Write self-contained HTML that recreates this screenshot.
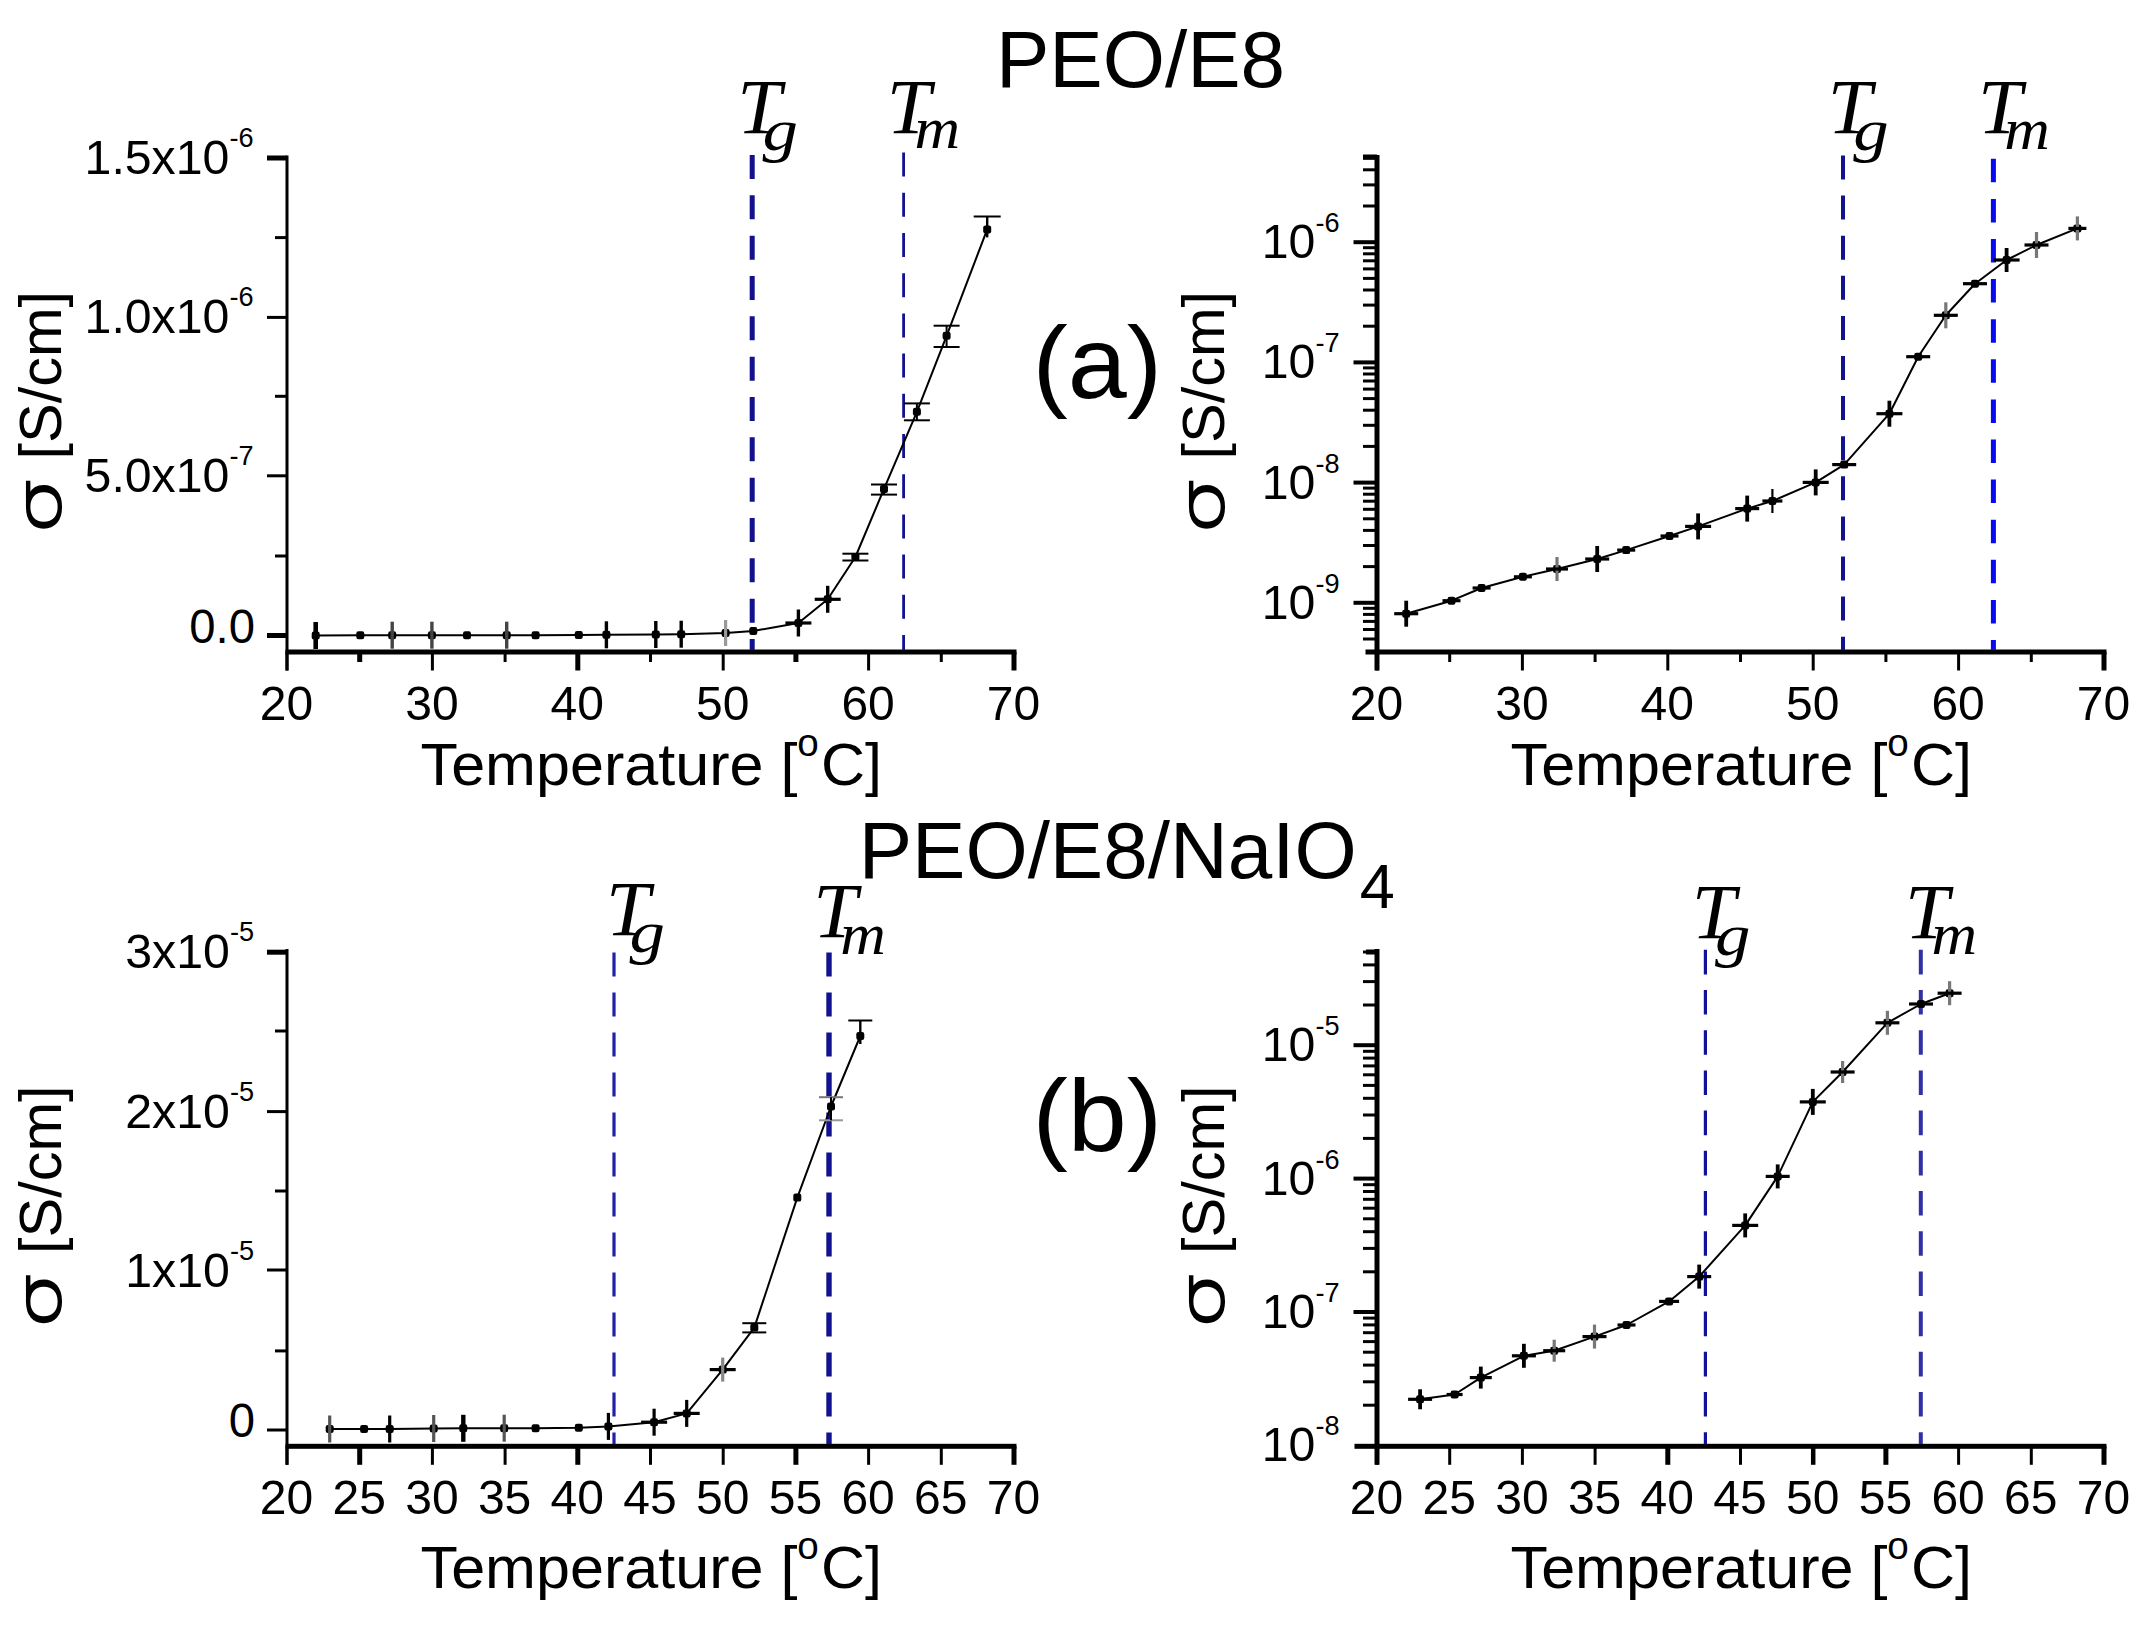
<!DOCTYPE html>
<html><head><meta charset="utf-8"><title>PEO/E8 conductivity</title>
<style>html,body{margin:0;padding:0;background:#fff}svg{display:block}</style></head>
<body>
<svg width="2151" height="1628" viewBox="0 0 2151 1628">
<rect width="2151" height="1628" fill="#fff"/>
<text id="title1" transform="translate(996.0,86.5) scale(1.0,1.0)" font-size="80" text-anchor="start" font-family='"Liberation Sans", Arial, sans-serif' >PEO/E8</text>
<text id="title2" transform="translate(858.7,877.6) scale(1.0,1.0)" font-size="80" text-anchor="start" font-family='"Liberation Sans", Arial, sans-serif' >PEO/E8/NaIO<tspan font-size="63" dy="30" dx="3">4</tspan></text>
<text id="la" transform="translate(1097.2,397.9) scale(1.04,1.0)" font-size="102" text-anchor="middle" font-family='"Liberation Sans", Arial, sans-serif' >(a)</text>
<text id="lb" transform="translate(1097.2,1151.0) scale(1.04,1.0)" font-size="102" text-anchor="middle" font-family='"Liberation Sans", Arial, sans-serif' >(b)</text>
<line x1="287.0" y1="155.5" x2="287.0" y2="670.5" stroke="#000" stroke-width="3" />
<rect x="285.5" y="649.5" width="731.0" height="5" fill="#000"/>
<line x1="287.0" y1="652.0" x2="287.0" y2="670.5" stroke="#000" stroke-width="3" />
<line x1="432.4" y1="652.0" x2="432.4" y2="670.5" stroke="#000" stroke-width="3" />
<line x1="577.8" y1="652.0" x2="577.8" y2="670.5" stroke="#000" stroke-width="5" />
<line x1="723.2" y1="652.0" x2="723.2" y2="670.5" stroke="#000" stroke-width="3" />
<line x1="868.6" y1="652.0" x2="868.6" y2="670.5" stroke="#000" stroke-width="3" />
<line x1="1014.0" y1="652.0" x2="1014.0" y2="670.5" stroke="#000" stroke-width="5" />
<line x1="359.7" y1="652.0" x2="359.7" y2="662.0" stroke="#000" stroke-width="5" />
<line x1="505.1" y1="652.0" x2="505.1" y2="662.0" stroke="#000" stroke-width="3" />
<line x1="650.5" y1="652.0" x2="650.5" y2="662.0" stroke="#000" stroke-width="3" />
<line x1="795.9" y1="652.0" x2="795.9" y2="662.0" stroke="#000" stroke-width="5" />
<line x1="941.3" y1="652.0" x2="941.3" y2="662.0" stroke="#000" stroke-width="3" />
<text id="t1" transform="translate(286.5,719.8) scale(0.99,1.0)" font-size="48.5" text-anchor="middle" font-family='"Liberation Sans", Arial, sans-serif' >20</text>
<text id="t2" transform="translate(431.9,719.8) scale(0.99,1.0)" font-size="48.5" text-anchor="middle" font-family='"Liberation Sans", Arial, sans-serif' >30</text>
<text id="t3" transform="translate(577.3,719.8) scale(0.99,1.0)" font-size="48.5" text-anchor="middle" font-family='"Liberation Sans", Arial, sans-serif' >40</text>
<text id="t4" transform="translate(722.7,719.8) scale(0.99,1.0)" font-size="48.5" text-anchor="middle" font-family='"Liberation Sans", Arial, sans-serif' >50</text>
<text id="t5" transform="translate(868.1,719.8) scale(0.99,1.0)" font-size="48.5" text-anchor="middle" font-family='"Liberation Sans", Arial, sans-serif' >60</text>
<text id="t6" transform="translate(1013.5,719.8) scale(0.99,1.0)" font-size="48.5" text-anchor="middle" font-family='"Liberation Sans", Arial, sans-serif' >70</text>
<line x1="267.0" y1="158.0" x2="287.0" y2="158.0" stroke="#000" stroke-width="5" />
<line x1="267.0" y1="317.4" x2="287.0" y2="317.4" stroke="#000" stroke-width="3" />
<line x1="267.0" y1="475.8" x2="287.0" y2="475.8" stroke="#000" stroke-width="3" />
<line x1="267.0" y1="635.5" x2="287.0" y2="635.5" stroke="#000" stroke-width="5" />
<line x1="275.0" y1="237.6" x2="287.0" y2="237.6" stroke="#000" stroke-width="3" />
<line x1="275.0" y1="396.3" x2="287.0" y2="396.3" stroke="#000" stroke-width="3" />
<line x1="275.0" y1="556.0" x2="287.0" y2="556.0" stroke="#000" stroke-width="3" />
<text id="sc7" transform="translate(253.5,174.0) scale(1.005,1.0)" font-size="48" text-anchor="end" font-family='"Liberation Sans", Arial, sans-serif' >1.5x10<tspan font-size="27" dy="-27">-6</tspan></text>
<text id="sc8" transform="translate(253.5,333.0) scale(1.005,1.0)" font-size="48" text-anchor="end" font-family='"Liberation Sans", Arial, sans-serif' >1.0x10<tspan font-size="27" dy="-27">-6</tspan></text>
<text id="sc9" transform="translate(253.5,491.5) scale(1.005,1.0)" font-size="48" text-anchor="end" font-family='"Liberation Sans", Arial, sans-serif' >5.0x10<tspan font-size="27" dy="-27">-7</tspan></text>
<text id="t10" transform="translate(255.0,643.0) scale(0.985,1.0)" font-size="48" text-anchor="end" font-family='"Liberation Sans", Arial, sans-serif' >0.0</text>
<text id="xl11" transform="translate(651.3,784.8) scale(1.018,1.0)" font-size="60" text-anchor="middle" font-family='"Liberation Sans", Arial, sans-serif' >Temperature [<tspan font-size="38" dy="-29">o</tspan><tspan dy="29" dx="2">C]</tspan></text>
<g transform="translate(61.2,531.5) rotate(-90)">
<text id="sg12" transform="translate(-3.0,-1.0) scale(1.5,1.0)" font-size="60" text-anchor="start" font-family='"DejaVu Sans", "Liberation Sans", sans-serif' font-weight="200" stroke="#000" stroke-width="2.1">σ</text>
<text id="yl13" transform="translate(72.0,0.0) scale(1.017,1.0)" font-size="58.5" text-anchor="start" font-family='"Liberation Sans", Arial, sans-serif' >[S/cm]</text>
</g>
<line x1="752.2" y1="155.0" x2="752.2" y2="650.0" stroke="#12128e" stroke-width="5" stroke-dasharray="24 16.33"/>
<line x1="903.6" y1="152.6" x2="903.6" y2="650.0" stroke="#12128e" stroke-width="2.8" stroke-dasharray="24 16.2"/>
<text id="T14" transform="translate(737.2,132.7) scale(1.0,1.0)" font-size="79" text-anchor="start" font-family='"Liberation Serif", "Times New Roman", serif' font-style="italic">T</text>
<text id="T14s" transform="translate(762.6,149.7) scale(1.2,1.0)" font-size="59" text-anchor="start" font-family='"Liberation Serif", "Times New Roman", serif' font-style="italic">g</text>
<text id="T15" transform="translate(886.8,132.7) scale(1.0,1.0)" font-size="79" text-anchor="start" font-family='"Liberation Serif", "Times New Roman", serif' font-style="italic">T</text>
<text id="T15s" transform="translate(914.4,148.2) scale(1.07,1.0)" font-size="59" text-anchor="start" font-family='"Liberation Serif", "Times New Roman", serif' font-style="italic">m</text>
<polyline fill="none" stroke="#000" stroke-width="2" stroke-linejoin="round" points="315.7,635.5 360.3,635.2 392.2,635.2 431.9,635.2 467.0,635.2 506.7,635.2 535.6,635.2 578.8,635.0 606.4,634.8 655.8,634.5 681.2,634.2 725.6,633.0 753.3,631.0 798.4,623.0 827.7,599.3 855.4,557.0 884.0,488.9 916.9,411.8 946.6,335.8 987.2,229.4"/>
<rect x="311.7" y="631.5" width="8" height="8" rx="2.2" fill="#000"/>
<rect x="356.3" y="631.2" width="8" height="8" rx="2.2" fill="#000"/>
<rect x="388.2" y="631.2" width="8" height="8" rx="2.2" fill="#000"/>
<rect x="427.9" y="631.2" width="8" height="8" rx="2.2" fill="#000"/>
<rect x="463.0" y="631.2" width="8" height="8" rx="2.2" fill="#000"/>
<rect x="502.7" y="631.2" width="8" height="8" rx="2.2" fill="#000"/>
<rect x="531.6" y="631.2" width="8" height="8" rx="2.2" fill="#000"/>
<rect x="574.8" y="631.0" width="8" height="8" rx="2.2" fill="#000"/>
<rect x="602.4" y="630.8" width="8" height="8" rx="2.2" fill="#000"/>
<rect x="651.8" y="630.5" width="8" height="8" rx="2.2" fill="#000"/>
<rect x="677.2" y="630.2" width="8" height="8" rx="2.2" fill="#000"/>
<rect x="721.6" y="629.0" width="8" height="8" rx="2.2" fill="#000"/>
<rect x="749.3" y="627.0" width="8" height="8" rx="2.2" fill="#000"/>
<rect x="794.4" y="619.0" width="8" height="8" rx="2.2" fill="#000"/>
<rect x="823.7" y="595.3" width="8" height="8" rx="2.2" fill="#000"/>
<rect x="851.4" y="553.0" width="8" height="8" rx="2.2" fill="#000"/>
<rect x="880.0" y="484.9" width="8" height="8" rx="2.2" fill="#000"/>
<rect x="912.9" y="407.8" width="8" height="8" rx="2.2" fill="#000"/>
<rect x="942.6" y="331.8" width="8" height="8" rx="2.2" fill="#000"/>
<rect x="983.2" y="225.4" width="8" height="8" rx="2.2" fill="#000"/>
<line x1="315.7" y1="622.0" x2="315.7" y2="649.0" stroke="#000" stroke-width="4.6" />
<line x1="392.2" y1="621.7" x2="392.2" y2="648.7" stroke="#444" stroke-width="3.4" />
<line x1="431.9" y1="621.7" x2="431.9" y2="648.7" stroke="#444" stroke-width="3.4" />
<line x1="506.7" y1="621.7" x2="506.7" y2="648.7" stroke="#444" stroke-width="3.4" />
<line x1="606.4" y1="621.3" x2="606.4" y2="648.3" stroke="#000" stroke-width="3.4" />
<line x1="655.8" y1="621.0" x2="655.8" y2="648.0" stroke="#000" stroke-width="3.4" />
<line x1="681.2" y1="620.7" x2="681.2" y2="647.7" stroke="#000" stroke-width="3.4" />
<line x1="798.4" y1="609.5" x2="798.4" y2="636.5" stroke="#000" stroke-width="3.4" />
<line x1="827.7" y1="585.8" x2="827.7" y2="612.8" stroke="#000" stroke-width="3.4" />
<line x1="725.6" y1="620.0" x2="725.6" y2="646.0" stroke="#999" stroke-width="3.2" />
<line x1="785.4" y1="623.0" x2="811.4" y2="623.0" stroke="#000" stroke-width="3.2" />
<line x1="814.7" y1="599.3" x2="840.7" y2="599.3" stroke="#000" stroke-width="3.2" />
<line x1="842.4" y1="553.7" x2="868.4" y2="553.7" stroke="#000" stroke-width="2" />
<line x1="842.4" y1="560.5" x2="868.4" y2="560.5" stroke="#000" stroke-width="2" />
<line x1="855.4" y1="553.7" x2="855.4" y2="560.5" stroke="#000" stroke-width="2" />
<line x1="871.0" y1="484.5" x2="897.0" y2="484.5" stroke="#000" stroke-width="2" />
<line x1="871.0" y1="494.6" x2="897.0" y2="494.6" stroke="#000" stroke-width="2" />
<line x1="884.0" y1="484.5" x2="884.0" y2="494.6" stroke="#000" stroke-width="2" />
<line x1="903.9" y1="403.4" x2="929.9" y2="403.4" stroke="#000" stroke-width="2" />
<line x1="903.9" y1="420.3" x2="929.9" y2="420.3" stroke="#000" stroke-width="2" />
<line x1="916.9" y1="403.4" x2="916.9" y2="420.3" stroke="#000" stroke-width="2" />
<line x1="933.6" y1="325.7" x2="959.6" y2="325.7" stroke="#000" stroke-width="2" />
<line x1="933.6" y1="347.0" x2="959.6" y2="347.0" stroke="#000" stroke-width="2" />
<line x1="946.6" y1="325.7" x2="946.6" y2="347.0" stroke="#000" stroke-width="2" />
<line x1="973.7" y1="216.5" x2="1000.7" y2="216.5" stroke="#000" stroke-width="2" />
<line x1="987.2" y1="216.5" x2="987.2" y2="237.4" stroke="#000" stroke-width="2.4" />
<line x1="1377.0" y1="155.0" x2="1377.0" y2="670.5" stroke="#000" stroke-width="5" />
<rect x="1365.5" y="649.5" width="741.0" height="5" fill="#000"/>
<line x1="1377.0" y1="652.0" x2="1377.0" y2="670.5" stroke="#000" stroke-width="3" />
<line x1="1522.4" y1="652.0" x2="1522.4" y2="670.5" stroke="#000" stroke-width="3" />
<line x1="1667.8" y1="652.0" x2="1667.8" y2="670.5" stroke="#000" stroke-width="3" />
<line x1="1813.2" y1="652.0" x2="1813.2" y2="670.5" stroke="#000" stroke-width="3" />
<line x1="1958.6" y1="652.0" x2="1958.6" y2="670.5" stroke="#000" stroke-width="3" />
<line x1="2104.0" y1="652.0" x2="2104.0" y2="670.5" stroke="#000" stroke-width="5" />
<line x1="1449.7" y1="652.0" x2="1449.7" y2="662.0" stroke="#000" stroke-width="3" />
<line x1="1595.1" y1="652.0" x2="1595.1" y2="662.0" stroke="#000" stroke-width="3" />
<line x1="1740.5" y1="652.0" x2="1740.5" y2="662.0" stroke="#000" stroke-width="3" />
<line x1="1885.9" y1="652.0" x2="1885.9" y2="662.0" stroke="#000" stroke-width="3" />
<line x1="2031.3" y1="652.0" x2="2031.3" y2="662.0" stroke="#000" stroke-width="3" />
<text id="t16" transform="translate(1376.5,719.8) scale(0.99,1.0)" font-size="48.5" text-anchor="middle" font-family='"Liberation Sans", Arial, sans-serif' >20</text>
<text id="t17" transform="translate(1521.9,719.8) scale(0.99,1.0)" font-size="48.5" text-anchor="middle" font-family='"Liberation Sans", Arial, sans-serif' >30</text>
<text id="t18" transform="translate(1667.3,719.8) scale(0.99,1.0)" font-size="48.5" text-anchor="middle" font-family='"Liberation Sans", Arial, sans-serif' >40</text>
<text id="t19" transform="translate(1812.7,719.8) scale(0.99,1.0)" font-size="48.5" text-anchor="middle" font-family='"Liberation Sans", Arial, sans-serif' >50</text>
<text id="t20" transform="translate(1958.1,719.8) scale(0.99,1.0)" font-size="48.5" text-anchor="middle" font-family='"Liberation Sans", Arial, sans-serif' >60</text>
<text id="t21" transform="translate(2103.5,719.8) scale(0.99,1.0)" font-size="48.5" text-anchor="middle" font-family='"Liberation Sans", Arial, sans-serif' >70</text>
<line x1="1363.0" y1="639.0" x2="1377.0" y2="639.0" stroke="#000" stroke-width="3" />
<line x1="1363.0" y1="629.5" x2="1377.0" y2="629.5" stroke="#000" stroke-width="3" />
<line x1="1363.0" y1="621.4" x2="1377.0" y2="621.4" stroke="#000" stroke-width="3" />
<line x1="1363.0" y1="614.4" x2="1377.0" y2="614.4" stroke="#000" stroke-width="3" />
<line x1="1363.0" y1="608.3" x2="1377.0" y2="608.3" stroke="#000" stroke-width="3" />
<line x1="1353.5" y1="602.8" x2="1377.0" y2="602.8" stroke="#000" stroke-width="4" />
<line x1="1363.0" y1="566.6" x2="1377.0" y2="566.6" stroke="#000" stroke-width="3" />
<line x1="1363.0" y1="545.5" x2="1377.0" y2="545.5" stroke="#000" stroke-width="3" />
<line x1="1363.0" y1="530.4" x2="1377.0" y2="530.4" stroke="#000" stroke-width="3" />
<line x1="1363.0" y1="518.8" x2="1377.0" y2="518.8" stroke="#000" stroke-width="3" />
<line x1="1363.0" y1="509.3" x2="1377.0" y2="509.3" stroke="#000" stroke-width="3" />
<line x1="1363.0" y1="501.2" x2="1377.0" y2="501.2" stroke="#000" stroke-width="3" />
<line x1="1363.0" y1="494.2" x2="1377.0" y2="494.2" stroke="#000" stroke-width="3" />
<line x1="1363.0" y1="488.1" x2="1377.0" y2="488.1" stroke="#000" stroke-width="3" />
<line x1="1353.5" y1="482.6" x2="1377.0" y2="482.6" stroke="#000" stroke-width="4" />
<line x1="1363.0" y1="446.4" x2="1377.0" y2="446.4" stroke="#000" stroke-width="3" />
<line x1="1363.0" y1="425.3" x2="1377.0" y2="425.3" stroke="#000" stroke-width="3" />
<line x1="1363.0" y1="410.2" x2="1377.0" y2="410.2" stroke="#000" stroke-width="3" />
<line x1="1363.0" y1="398.6" x2="1377.0" y2="398.6" stroke="#000" stroke-width="3" />
<line x1="1363.0" y1="389.1" x2="1377.0" y2="389.1" stroke="#000" stroke-width="3" />
<line x1="1363.0" y1="381.0" x2="1377.0" y2="381.0" stroke="#000" stroke-width="3" />
<line x1="1363.0" y1="374.0" x2="1377.0" y2="374.0" stroke="#000" stroke-width="3" />
<line x1="1363.0" y1="367.9" x2="1377.0" y2="367.9" stroke="#000" stroke-width="3" />
<line x1="1353.5" y1="362.4" x2="1377.0" y2="362.4" stroke="#000" stroke-width="4" />
<line x1="1363.0" y1="326.2" x2="1377.0" y2="326.2" stroke="#000" stroke-width="3" />
<line x1="1363.0" y1="305.1" x2="1377.0" y2="305.1" stroke="#000" stroke-width="3" />
<line x1="1363.0" y1="290.0" x2="1377.0" y2="290.0" stroke="#000" stroke-width="3" />
<line x1="1363.0" y1="278.4" x2="1377.0" y2="278.4" stroke="#000" stroke-width="3" />
<line x1="1363.0" y1="268.9" x2="1377.0" y2="268.9" stroke="#000" stroke-width="3" />
<line x1="1363.0" y1="260.8" x2="1377.0" y2="260.8" stroke="#000" stroke-width="3" />
<line x1="1363.0" y1="253.8" x2="1377.0" y2="253.8" stroke="#000" stroke-width="3" />
<line x1="1363.0" y1="247.7" x2="1377.0" y2="247.7" stroke="#000" stroke-width="3" />
<line x1="1353.5" y1="242.2" x2="1377.0" y2="242.2" stroke="#000" stroke-width="4" />
<line x1="1363.0" y1="206.0" x2="1377.0" y2="206.0" stroke="#000" stroke-width="3" />
<line x1="1363.0" y1="184.9" x2="1377.0" y2="184.9" stroke="#000" stroke-width="3" />
<line x1="1363.0" y1="169.8" x2="1377.0" y2="169.8" stroke="#000" stroke-width="3" />
<line x1="1363.0" y1="158.2" x2="1377.0" y2="158.2" stroke="#000" stroke-width="3" />
<line x1="1363.0" y1="157.0" x2="1377.0" y2="157.0" stroke="#000" stroke-width="5" />
<text id="sc22" transform="translate(1339.5,258.2) scale(1.005,1.0)" font-size="48" text-anchor="end" font-family='"Liberation Sans", Arial, sans-serif' >10<tspan font-size="27" dy="-26">-6</tspan></text>
<text id="sc23" transform="translate(1339.5,378.4) scale(1.005,1.0)" font-size="48" text-anchor="end" font-family='"Liberation Sans", Arial, sans-serif' >10<tspan font-size="27" dy="-26">-7</tspan></text>
<text id="sc24" transform="translate(1339.5,498.6) scale(1.005,1.0)" font-size="48" text-anchor="end" font-family='"Liberation Sans", Arial, sans-serif' >10<tspan font-size="27" dy="-26">-8</tspan></text>
<text id="sc25" transform="translate(1339.5,618.8) scale(1.005,1.0)" font-size="48" text-anchor="end" font-family='"Liberation Sans", Arial, sans-serif' >10<tspan font-size="27" dy="-26">-9</tspan></text>
<text id="xl26" transform="translate(1741.3,784.8) scale(1.018,1.0)" font-size="60" text-anchor="middle" font-family='"Liberation Sans", Arial, sans-serif' >Temperature [<tspan font-size="38" dy="-29">o</tspan><tspan dy="29" dx="2">C]</tspan></text>
<g transform="translate(1224.0,531.5) rotate(-90)">
<text id="sg27" transform="translate(-3.0,-1.0) scale(1.5,1.0)" font-size="60" text-anchor="start" font-family='"DejaVu Sans", "Liberation Sans", sans-serif' font-weight="200" stroke="#000" stroke-width="2.1">σ</text>
<text id="yl28" transform="translate(72.0,0.0) scale(1.017,1.0)" font-size="58.5" text-anchor="start" font-family='"Liberation Sans", Arial, sans-serif' >[S/cm]</text>
</g>
<line x1="1843.0" y1="155.5" x2="1843.0" y2="650.0" stroke="#12128e" stroke-width="4" stroke-dasharray="24 16.1"/>
<line x1="1993.4" y1="158.8" x2="1993.4" y2="650.0" stroke="#0a0aee" stroke-width="5" stroke-dasharray="23.5 16.6"/>
<text id="T29" transform="translate(1827.7,132.6) scale(1.0,1.0)" font-size="79" text-anchor="start" font-family='"Liberation Serif", "Times New Roman", serif' font-style="italic">T</text>
<text id="T29s" transform="translate(1853.3,149.6) scale(1.2,1.0)" font-size="59" text-anchor="start" font-family='"Liberation Serif", "Times New Roman", serif' font-style="italic">g</text>
<text id="T30" transform="translate(1978.0,132.6) scale(1.0,1.0)" font-size="79" text-anchor="start" font-family='"Liberation Serif", "Times New Roman", serif' font-style="italic">T</text>
<text id="T30s" transform="translate(2004.3,149.0) scale(1.07,1.0)" font-size="59" text-anchor="start" font-family='"Liberation Serif", "Times New Roman", serif' font-style="italic">m</text>
<polyline fill="none" stroke="#000" stroke-width="2" stroke-linejoin="round" points="1406.2,613.7 1451.5,600.7 1481.6,588.0 1522.9,576.8 1557.0,569.0 1597.2,559.0 1626.2,550.1 1669.5,536.0 1698.1,526.4 1747.2,508.6 1772.4,501.0 1815.7,482.4 1844.2,464.6 1889.4,413.7 1918.2,356.7 1945.8,315.3 1975.0,283.7 2006.6,260.0 2036.5,245.0 2077.4,228.4"/>
<rect x="1402.2" y="609.7" width="8" height="8" rx="2.2" fill="#000"/>
<line x1="1406.2" y1="600.7" x2="1406.2" y2="626.7" stroke="#000" stroke-width="3.8" />
<line x1="1394.2" y1="613.7" x2="1418.2" y2="613.7" stroke="#000" stroke-width="3.2" />
<rect x="1447.5" y="596.7" width="8" height="8" rx="2.2" fill="#000"/>
<line x1="1442.5" y1="600.7" x2="1460.5" y2="600.7" stroke="#000" stroke-width="3.2" />
<rect x="1477.6" y="584.0" width="8" height="8" rx="2.2" fill="#000"/>
<line x1="1472.6" y1="588.0" x2="1490.6" y2="588.0" stroke="#000" stroke-width="3.2" />
<rect x="1518.9" y="572.8" width="8" height="8" rx="2.2" fill="#000"/>
<line x1="1513.9" y1="576.8" x2="1531.9" y2="576.8" stroke="#000" stroke-width="3.2" />
<rect x="1553.0" y="565.0" width="8" height="8" rx="2.2" fill="#000"/>
<line x1="1557.0" y1="557.0" x2="1557.0" y2="581.0" stroke="#777" stroke-width="3.2" />
<line x1="1546.0" y1="569.0" x2="1568.0" y2="569.0" stroke="#000" stroke-width="3.2" />
<rect x="1593.2" y="555.0" width="8" height="8" rx="2.2" fill="#000"/>
<line x1="1597.2" y1="546.0" x2="1597.2" y2="572.0" stroke="#000" stroke-width="3.8" />
<line x1="1585.2" y1="559.0" x2="1609.2" y2="559.0" stroke="#000" stroke-width="3.2" />
<rect x="1622.2" y="546.1" width="8" height="8" rx="2.2" fill="#000"/>
<line x1="1617.2" y1="550.1" x2="1635.2" y2="550.1" stroke="#000" stroke-width="3.2" />
<rect x="1665.5" y="532.0" width="8" height="8" rx="2.2" fill="#000"/>
<line x1="1660.5" y1="536.0" x2="1678.5" y2="536.0" stroke="#000" stroke-width="3.2" />
<rect x="1694.1" y="522.4" width="8" height="8" rx="2.2" fill="#000"/>
<line x1="1698.1" y1="513.4" x2="1698.1" y2="539.4" stroke="#000" stroke-width="3.8" />
<line x1="1685.1" y1="526.4" x2="1711.1" y2="526.4" stroke="#000" stroke-width="3.2" />
<rect x="1743.2" y="504.6" width="8" height="8" rx="2.2" fill="#000"/>
<line x1="1747.2" y1="495.6" x2="1747.2" y2="521.6" stroke="#000" stroke-width="3.8" />
<line x1="1735.2" y1="508.6" x2="1759.2" y2="508.6" stroke="#000" stroke-width="3.2" />
<rect x="1768.4" y="497.0" width="8" height="8" rx="2.2" fill="#000"/>
<line x1="1772.4" y1="489.0" x2="1772.4" y2="513.0" stroke="#000" stroke-width="2.2" />
<line x1="1762.4" y1="501.0" x2="1782.4" y2="501.0" stroke="#000" stroke-width="3.2" />
<rect x="1811.7" y="478.4" width="8" height="8" rx="2.2" fill="#000"/>
<line x1="1815.7" y1="469.4" x2="1815.7" y2="495.4" stroke="#000" stroke-width="3.8" />
<line x1="1802.7" y1="482.4" x2="1828.7" y2="482.4" stroke="#000" stroke-width="3.2" />
<rect x="1840.2" y="460.6" width="8" height="8" rx="2.2" fill="#000"/>
<line x1="1832.2" y1="464.6" x2="1856.2" y2="464.6" stroke="#000" stroke-width="3.2" />
<rect x="1885.4" y="409.7" width="8" height="8" rx="2.2" fill="#000"/>
<line x1="1889.4" y1="400.7" x2="1889.4" y2="426.7" stroke="#000" stroke-width="3.8" />
<line x1="1876.4" y1="413.7" x2="1902.4" y2="413.7" stroke="#000" stroke-width="3.2" />
<rect x="1914.2" y="352.7" width="8" height="8" rx="2.2" fill="#000"/>
<line x1="1906.2" y1="356.7" x2="1930.2" y2="356.7" stroke="#000" stroke-width="3.2" />
<rect x="1941.8" y="311.3" width="8" height="8" rx="2.2" fill="#000"/>
<line x1="1945.8" y1="302.3" x2="1945.8" y2="328.3" stroke="#777" stroke-width="3.2" />
<line x1="1933.8" y1="315.3" x2="1957.8" y2="315.3" stroke="#000" stroke-width="3.2" />
<rect x="1971.0" y="279.7" width="8" height="8" rx="2.2" fill="#000"/>
<line x1="1963.0" y1="283.7" x2="1987.0" y2="283.7" stroke="#000" stroke-width="3.2" />
<rect x="2002.6" y="256.0" width="8" height="8" rx="2.2" fill="#000"/>
<line x1="2006.6" y1="248.0" x2="2006.6" y2="272.0" stroke="#000" stroke-width="3.8" />
<line x1="1993.6" y1="260.0" x2="2019.6" y2="260.0" stroke="#000" stroke-width="3.2" />
<rect x="2032.5" y="241.0" width="8" height="8" rx="2.2" fill="#000"/>
<line x1="2036.5" y1="232.0" x2="2036.5" y2="258.0" stroke="#777" stroke-width="3.2" />
<line x1="2024.5" y1="245.0" x2="2048.5" y2="245.0" stroke="#000" stroke-width="3.2" />
<rect x="2073.4" y="224.4" width="8" height="8" rx="2.2" fill="#000"/>
<line x1="2077.4" y1="216.4" x2="2077.4" y2="240.4" stroke="#777" stroke-width="3.2" />
<line x1="2068.4" y1="228.4" x2="2086.4" y2="228.4" stroke="#000" stroke-width="3.2" />
<line x1="287.0" y1="949.0" x2="287.0" y2="1464.8" stroke="#000" stroke-width="3" />
<rect x="285.5" y="1443.8" width="731.0" height="5" fill="#000"/>
<line x1="287.0" y1="1446.3" x2="287.0" y2="1464.8" stroke="#000" stroke-width="3" />
<line x1="359.7" y1="1446.3" x2="359.7" y2="1464.8" stroke="#000" stroke-width="5" />
<line x1="432.4" y1="1446.3" x2="432.4" y2="1464.8" stroke="#000" stroke-width="3" />
<line x1="505.1" y1="1446.3" x2="505.1" y2="1464.8" stroke="#000" stroke-width="3" />
<line x1="577.8" y1="1446.3" x2="577.8" y2="1464.8" stroke="#000" stroke-width="5" />
<line x1="650.5" y1="1446.3" x2="650.5" y2="1464.8" stroke="#000" stroke-width="3" />
<line x1="723.2" y1="1446.3" x2="723.2" y2="1464.8" stroke="#000" stroke-width="3" />
<line x1="795.9" y1="1446.3" x2="795.9" y2="1464.8" stroke="#000" stroke-width="5" />
<line x1="868.6" y1="1446.3" x2="868.6" y2="1464.8" stroke="#000" stroke-width="3" />
<line x1="941.3" y1="1446.3" x2="941.3" y2="1464.8" stroke="#000" stroke-width="3" />
<line x1="1014.0" y1="1446.3" x2="1014.0" y2="1464.8" stroke="#000" stroke-width="5" />
<text id="t31" transform="translate(286.5,1514.1) scale(0.99,1.0)" font-size="48.5" text-anchor="middle" font-family='"Liberation Sans", Arial, sans-serif' >20</text>
<text id="t32" transform="translate(359.2,1514.1) scale(0.99,1.0)" font-size="48.5" text-anchor="middle" font-family='"Liberation Sans", Arial, sans-serif' >25</text>
<text id="t33" transform="translate(431.9,1514.1) scale(0.99,1.0)" font-size="48.5" text-anchor="middle" font-family='"Liberation Sans", Arial, sans-serif' >30</text>
<text id="t34" transform="translate(504.6,1514.1) scale(0.99,1.0)" font-size="48.5" text-anchor="middle" font-family='"Liberation Sans", Arial, sans-serif' >35</text>
<text id="t35" transform="translate(577.3,1514.1) scale(0.99,1.0)" font-size="48.5" text-anchor="middle" font-family='"Liberation Sans", Arial, sans-serif' >40</text>
<text id="t36" transform="translate(650.0,1514.1) scale(0.99,1.0)" font-size="48.5" text-anchor="middle" font-family='"Liberation Sans", Arial, sans-serif' >45</text>
<text id="t37" transform="translate(722.7,1514.1) scale(0.99,1.0)" font-size="48.5" text-anchor="middle" font-family='"Liberation Sans", Arial, sans-serif' >50</text>
<text id="t38" transform="translate(795.4,1514.1) scale(0.99,1.0)" font-size="48.5" text-anchor="middle" font-family='"Liberation Sans", Arial, sans-serif' >55</text>
<text id="t39" transform="translate(868.1,1514.1) scale(0.99,1.0)" font-size="48.5" text-anchor="middle" font-family='"Liberation Sans", Arial, sans-serif' >60</text>
<text id="t40" transform="translate(940.8,1514.1) scale(0.99,1.0)" font-size="48.5" text-anchor="middle" font-family='"Liberation Sans", Arial, sans-serif' >65</text>
<text id="t41" transform="translate(1013.5,1514.1) scale(0.99,1.0)" font-size="48.5" text-anchor="middle" font-family='"Liberation Sans", Arial, sans-serif' >70</text>
<line x1="267.0" y1="952.2" x2="287.0" y2="952.2" stroke="#000" stroke-width="5" />
<line x1="267.0" y1="1111.6" x2="287.0" y2="1111.6" stroke="#000" stroke-width="3" />
<line x1="267.0" y1="1270.0" x2="287.0" y2="1270.0" stroke="#000" stroke-width="3" />
<line x1="267.0" y1="1430.0" x2="287.0" y2="1430.0" stroke="#000" stroke-width="3" />
<line x1="275.0" y1="1031.0" x2="287.0" y2="1031.0" stroke="#000" stroke-width="3" />
<line x1="275.0" y1="1191.0" x2="287.0" y2="1191.0" stroke="#000" stroke-width="3" />
<line x1="275.0" y1="1350.9" x2="287.0" y2="1350.9" stroke="#000" stroke-width="3" />
<text id="sc42" transform="translate(254.0,968.3) scale(1.005,1.0)" font-size="48" text-anchor="end" font-family='"Liberation Sans", Arial, sans-serif' >3x10<tspan font-size="27" dy="-27">-5</tspan></text>
<text id="sc43" transform="translate(254.0,1128.3) scale(1.005,1.0)" font-size="48" text-anchor="end" font-family='"Liberation Sans", Arial, sans-serif' >2x10<tspan font-size="27" dy="-27">-5</tspan></text>
<text id="sc44" transform="translate(254.0,1287.0) scale(1.005,1.0)" font-size="48" text-anchor="end" font-family='"Liberation Sans", Arial, sans-serif' >1x10<tspan font-size="27" dy="-27">-5</tspan></text>
<text id="t45" transform="translate(255.0,1437.2) scale(0.985,1.0)" font-size="48" text-anchor="end" font-family='"Liberation Sans", Arial, sans-serif' >0</text>
<text id="xl46" transform="translate(651.3,1587.6) scale(1.018,1.0)" font-size="60" text-anchor="middle" font-family='"Liberation Sans", Arial, sans-serif' >Temperature [<tspan font-size="38" dy="-29">o</tspan><tspan dy="29" dx="2">C]</tspan></text>
<g transform="translate(61.2,1326.0) rotate(-90)">
<text id="sg47" transform="translate(-3.0,-1.0) scale(1.5,1.0)" font-size="60" text-anchor="start" font-family='"DejaVu Sans", "Liberation Sans", sans-serif' font-weight="200" stroke="#000" stroke-width="2.1">σ</text>
<text id="yl48" transform="translate(72.0,0.0) scale(1.017,1.0)" font-size="58.5" text-anchor="start" font-family='"Liberation Sans", Arial, sans-serif' >[S/cm]</text>
</g>
<line x1="614.0" y1="952.5" x2="614.0" y2="1444.0" stroke="#2020a8" stroke-width="3.2" stroke-dasharray="24 16"/>
<line x1="829.0" y1="952.5" x2="829.0" y2="1444.0" stroke="#12128e" stroke-width="5.4" stroke-dasharray="24 16"/>
<text id="T49" transform="translate(606.1,935.2) scale(1.0,1.0)" font-size="79" text-anchor="start" font-family='"Liberation Serif", "Times New Roman", serif' font-style="italic">T</text>
<text id="T49s" transform="translate(629.4,952.4) scale(1.2,1.0)" font-size="59" text-anchor="start" font-family='"Liberation Serif", "Times New Roman", serif' font-style="italic">g</text>
<text id="T50" transform="translate(813.3,937.3) scale(1.0,1.0)" font-size="79" text-anchor="start" font-family='"Liberation Serif", "Times New Roman", serif' font-style="italic">T</text>
<text id="T50s" transform="translate(840.3,954.3) scale(1.07,1.0)" font-size="59" text-anchor="start" font-family='"Liberation Serif", "Times New Roman", serif' font-style="italic">m</text>
<polyline fill="none" stroke="#000" stroke-width="2" stroke-linejoin="round" points="329.7,1429.0 364.1,1429.0 389.7,1429.0 433.7,1428.5 463.3,1428.3 504.2,1428.2 535.6,1428.2 578.8,1427.7 608.4,1426.4 654.1,1422.2 686.7,1413.4 722.7,1369.6 754.3,1327.6 797.3,1197.6 831.0,1106.5 860.3,1036.0"/>
<rect x="325.7" y="1425.0" width="8" height="8" rx="2.2" fill="#000"/>
<rect x="360.1" y="1425.0" width="8" height="8" rx="2.2" fill="#000"/>
<rect x="385.7" y="1425.0" width="8" height="8" rx="2.2" fill="#000"/>
<rect x="429.7" y="1424.5" width="8" height="8" rx="2.2" fill="#000"/>
<rect x="459.3" y="1424.3" width="8" height="8" rx="2.2" fill="#000"/>
<rect x="500.2" y="1424.2" width="8" height="8" rx="2.2" fill="#000"/>
<rect x="531.6" y="1424.2" width="8" height="8" rx="2.2" fill="#000"/>
<rect x="574.8" y="1423.7" width="8" height="8" rx="2.2" fill="#000"/>
<rect x="604.4" y="1422.4" width="8" height="8" rx="2.2" fill="#000"/>
<rect x="650.1" y="1418.2" width="8" height="8" rx="2.2" fill="#000"/>
<rect x="682.7" y="1409.4" width="8" height="8" rx="2.2" fill="#000"/>
<rect x="718.7" y="1365.6" width="8" height="8" rx="2.2" fill="#000"/>
<rect x="750.3" y="1323.6" width="8" height="8" rx="2.2" fill="#000"/>
<rect x="793.3" y="1193.6" width="8" height="8" rx="2.2" fill="#000"/>
<rect x="827.0" y="1102.5" width="8" height="8" rx="2.2" fill="#000"/>
<rect x="856.3" y="1032.0" width="8" height="8" rx="2.2" fill="#000"/>
<line x1="329.7" y1="1415.5" x2="329.7" y2="1442.5" stroke="#555" stroke-width="3.2" />
<line x1="389.7" y1="1415.5" x2="389.7" y2="1442.5" stroke="#000" stroke-width="3.2" />
<line x1="433.7" y1="1415.0" x2="433.7" y2="1442.0" stroke="#555" stroke-width="3.2" />
<line x1="463.3" y1="1414.8" x2="463.3" y2="1441.8" stroke="#000" stroke-width="4.4" />
<line x1="504.2" y1="1414.7" x2="504.2" y2="1441.7" stroke="#555" stroke-width="3.2" />
<line x1="608.4" y1="1412.9" x2="608.4" y2="1439.9" stroke="#000" stroke-width="3.2" />
<line x1="654.1" y1="1408.7" x2="654.1" y2="1435.7" stroke="#000" stroke-width="3.2" />
<line x1="686.7" y1="1399.9" x2="686.7" y2="1426.9" stroke="#000" stroke-width="3.2" />
<line x1="641.1" y1="1422.2" x2="667.1" y2="1422.2" stroke="#000" stroke-width="3.2" />
<line x1="673.7" y1="1413.4" x2="699.7" y2="1413.4" stroke="#000" stroke-width="3.2" />
<line x1="709.7" y1="1369.6" x2="735.7" y2="1369.6" stroke="#000" stroke-width="3.2" />
<line x1="722.7" y1="1357.6" x2="722.7" y2="1381.6" stroke="#888" stroke-width="3.2" />
<line x1="742.3" y1="1323.2" x2="766.3" y2="1323.2" stroke="#000" stroke-width="2" />
<line x1="742.3" y1="1332.4" x2="766.3" y2="1332.4" stroke="#000" stroke-width="2" />
<line x1="819.0" y1="1097.2" x2="843.0" y2="1097.2" stroke="#777" stroke-width="2" />
<line x1="819.0" y1="1120.3" x2="843.0" y2="1120.3" stroke="#999" stroke-width="2" />
<line x1="831.0" y1="1097.2" x2="831.0" y2="1120.3" stroke="#000" stroke-width="2" />
<line x1="848.3" y1="1020.5" x2="872.3" y2="1020.5" stroke="#000" stroke-width="2" />
<line x1="860.3" y1="1020.5" x2="860.3" y2="1044.0" stroke="#000" stroke-width="2.4" />
<line x1="1377.0" y1="949.0" x2="1377.0" y2="1464.8" stroke="#000" stroke-width="5" />
<rect x="1354.5" y="1443.8" width="752.0" height="5" fill="#000"/>
<line x1="1377.0" y1="1446.3" x2="1377.0" y2="1464.8" stroke="#000" stroke-width="3" />
<line x1="1449.7" y1="1446.3" x2="1449.7" y2="1464.8" stroke="#000" stroke-width="3" />
<line x1="1522.4" y1="1446.3" x2="1522.4" y2="1464.8" stroke="#000" stroke-width="3" />
<line x1="1595.1" y1="1446.3" x2="1595.1" y2="1464.8" stroke="#000" stroke-width="3" />
<line x1="1667.8" y1="1446.3" x2="1667.8" y2="1464.8" stroke="#000" stroke-width="5" />
<line x1="1740.5" y1="1446.3" x2="1740.5" y2="1464.8" stroke="#000" stroke-width="3" />
<line x1="1813.2" y1="1446.3" x2="1813.2" y2="1464.8" stroke="#000" stroke-width="4.5" />
<line x1="1885.9" y1="1446.3" x2="1885.9" y2="1464.8" stroke="#000" stroke-width="5" />
<line x1="1958.6" y1="1446.3" x2="1958.6" y2="1464.8" stroke="#000" stroke-width="3" />
<line x1="2031.3" y1="1446.3" x2="2031.3" y2="1464.8" stroke="#000" stroke-width="3" />
<line x1="2104.0" y1="1446.3" x2="2104.0" y2="1464.8" stroke="#000" stroke-width="5" />
<text id="t51" transform="translate(1376.5,1514.1) scale(0.99,1.0)" font-size="48.5" text-anchor="middle" font-family='"Liberation Sans", Arial, sans-serif' >20</text>
<text id="t52" transform="translate(1449.2,1514.1) scale(0.99,1.0)" font-size="48.5" text-anchor="middle" font-family='"Liberation Sans", Arial, sans-serif' >25</text>
<text id="t53" transform="translate(1521.9,1514.1) scale(0.99,1.0)" font-size="48.5" text-anchor="middle" font-family='"Liberation Sans", Arial, sans-serif' >30</text>
<text id="t54" transform="translate(1594.6,1514.1) scale(0.99,1.0)" font-size="48.5" text-anchor="middle" font-family='"Liberation Sans", Arial, sans-serif' >35</text>
<text id="t55" transform="translate(1667.3,1514.1) scale(0.99,1.0)" font-size="48.5" text-anchor="middle" font-family='"Liberation Sans", Arial, sans-serif' >40</text>
<text id="t56" transform="translate(1740.0,1514.1) scale(0.99,1.0)" font-size="48.5" text-anchor="middle" font-family='"Liberation Sans", Arial, sans-serif' >45</text>
<text id="t57" transform="translate(1812.7,1514.1) scale(0.99,1.0)" font-size="48.5" text-anchor="middle" font-family='"Liberation Sans", Arial, sans-serif' >50</text>
<text id="t58" transform="translate(1885.4,1514.1) scale(0.99,1.0)" font-size="48.5" text-anchor="middle" font-family='"Liberation Sans", Arial, sans-serif' >55</text>
<text id="t59" transform="translate(1958.1,1514.1) scale(0.99,1.0)" font-size="48.5" text-anchor="middle" font-family='"Liberation Sans", Arial, sans-serif' >60</text>
<text id="t60" transform="translate(2030.8,1514.1) scale(0.99,1.0)" font-size="48.5" text-anchor="middle" font-family='"Liberation Sans", Arial, sans-serif' >65</text>
<text id="t61" transform="translate(2103.5,1514.1) scale(0.99,1.0)" font-size="48.5" text-anchor="middle" font-family='"Liberation Sans", Arial, sans-serif' >70</text>
<line x1="1363.0" y1="1405.2" x2="1377.0" y2="1405.2" stroke="#000" stroke-width="3" />
<line x1="1363.0" y1="1381.8" x2="1377.0" y2="1381.8" stroke="#000" stroke-width="3" />
<line x1="1363.0" y1="1365.1" x2="1377.0" y2="1365.1" stroke="#000" stroke-width="3" />
<line x1="1363.0" y1="1352.2" x2="1377.0" y2="1352.2" stroke="#000" stroke-width="3" />
<line x1="1363.0" y1="1341.6" x2="1377.0" y2="1341.6" stroke="#000" stroke-width="3" />
<line x1="1363.0" y1="1332.7" x2="1377.0" y2="1332.7" stroke="#000" stroke-width="3" />
<line x1="1363.0" y1="1324.9" x2="1377.0" y2="1324.9" stroke="#000" stroke-width="3" />
<line x1="1363.0" y1="1318.1" x2="1377.0" y2="1318.1" stroke="#000" stroke-width="3" />
<line x1="1353.5" y1="1312.0" x2="1377.0" y2="1312.0" stroke="#000" stroke-width="4" />
<line x1="1363.0" y1="1271.8" x2="1377.0" y2="1271.8" stroke="#000" stroke-width="3" />
<line x1="1363.0" y1="1248.4" x2="1377.0" y2="1248.4" stroke="#000" stroke-width="3" />
<line x1="1363.0" y1="1231.7" x2="1377.0" y2="1231.7" stroke="#000" stroke-width="3" />
<line x1="1363.0" y1="1218.8" x2="1377.0" y2="1218.8" stroke="#000" stroke-width="3" />
<line x1="1363.0" y1="1208.2" x2="1377.0" y2="1208.2" stroke="#000" stroke-width="3" />
<line x1="1363.0" y1="1199.3" x2="1377.0" y2="1199.3" stroke="#000" stroke-width="3" />
<line x1="1363.0" y1="1191.5" x2="1377.0" y2="1191.5" stroke="#000" stroke-width="3" />
<line x1="1363.0" y1="1184.7" x2="1377.0" y2="1184.7" stroke="#000" stroke-width="3" />
<line x1="1353.5" y1="1178.6" x2="1377.0" y2="1178.6" stroke="#000" stroke-width="4" />
<line x1="1363.0" y1="1138.4" x2="1377.0" y2="1138.4" stroke="#000" stroke-width="3" />
<line x1="1363.0" y1="1115.0" x2="1377.0" y2="1115.0" stroke="#000" stroke-width="3" />
<line x1="1363.0" y1="1098.3" x2="1377.0" y2="1098.3" stroke="#000" stroke-width="3" />
<line x1="1363.0" y1="1085.4" x2="1377.0" y2="1085.4" stroke="#000" stroke-width="3" />
<line x1="1363.0" y1="1074.8" x2="1377.0" y2="1074.8" stroke="#000" stroke-width="3" />
<line x1="1363.0" y1="1065.9" x2="1377.0" y2="1065.9" stroke="#000" stroke-width="3" />
<line x1="1363.0" y1="1058.1" x2="1377.0" y2="1058.1" stroke="#000" stroke-width="3" />
<line x1="1363.0" y1="1051.3" x2="1377.0" y2="1051.3" stroke="#000" stroke-width="3" />
<line x1="1353.5" y1="1045.2" x2="1377.0" y2="1045.2" stroke="#000" stroke-width="4" />
<line x1="1363.0" y1="1005.0" x2="1377.0" y2="1005.0" stroke="#000" stroke-width="3" />
<line x1="1363.0" y1="981.6" x2="1377.0" y2="981.6" stroke="#000" stroke-width="3" />
<line x1="1363.0" y1="964.9" x2="1377.0" y2="964.9" stroke="#000" stroke-width="3" />
<line x1="1363.0" y1="952.0" x2="1377.0" y2="952.0" stroke="#000" stroke-width="3" />
<line x1="1366.0" y1="952.0" x2="1377.0" y2="952.0" stroke="#000" stroke-width="5" />
<text id="sc62" transform="translate(1339.5,1061.2) scale(1.005,1.0)" font-size="48" text-anchor="end" font-family='"Liberation Sans", Arial, sans-serif' >10<tspan font-size="27" dy="-26">-5</tspan></text>
<text id="sc63" transform="translate(1339.5,1194.6) scale(1.005,1.0)" font-size="48" text-anchor="end" font-family='"Liberation Sans", Arial, sans-serif' >10<tspan font-size="27" dy="-26">-6</tspan></text>
<text id="sc64" transform="translate(1339.5,1328.0) scale(1.005,1.0)" font-size="48" text-anchor="end" font-family='"Liberation Sans", Arial, sans-serif' >10<tspan font-size="27" dy="-26">-7</tspan></text>
<text id="sc65" transform="translate(1339.5,1461.4) scale(1.005,1.0)" font-size="48" text-anchor="end" font-family='"Liberation Sans", Arial, sans-serif' >10<tspan font-size="27" dy="-26">-8</tspan></text>
<text id="xl66" transform="translate(1741.3,1587.6) scale(1.018,1.0)" font-size="60" text-anchor="middle" font-family='"Liberation Sans", Arial, sans-serif' >Temperature [<tspan font-size="38" dy="-29">o</tspan><tspan dy="29" dx="2">C]</tspan></text>
<g transform="translate(1224.0,1326.0) rotate(-90)">
<text id="sg67" transform="translate(-3.0,-1.0) scale(1.5,1.0)" font-size="60" text-anchor="start" font-family='"DejaVu Sans", "Liberation Sans", sans-serif' font-weight="200" stroke="#000" stroke-width="2.1">σ</text>
<text id="yl68" transform="translate(72.0,0.0) scale(1.017,1.0)" font-size="58.5" text-anchor="start" font-family='"Liberation Sans", Arial, sans-serif' >[S/cm]</text>
</g>
<line x1="1705.4" y1="949.8" x2="1705.4" y2="1444.0" stroke="#10109a" stroke-width="3.2" stroke-dasharray="24.6 15.6"/>
<line x1="1920.8" y1="949.8" x2="1920.8" y2="1444.0" stroke="#3030a4" stroke-width="4" stroke-dasharray="24.6 15.6"/>
<text id="T69" transform="translate(1691.7,937.6) scale(1.0,1.0)" font-size="79" text-anchor="start" font-family='"Liberation Serif", "Times New Roman", serif' font-style="italic">T</text>
<text id="T69s" transform="translate(1714.9,954.9) scale(1.2,1.0)" font-size="59" text-anchor="start" font-family='"Liberation Serif", "Times New Roman", serif' font-style="italic">g</text>
<text id="T70" transform="translate(1905.1,937.6) scale(1.0,1.0)" font-size="79" text-anchor="start" font-family='"Liberation Serif", "Times New Roman", serif' font-style="italic">T</text>
<text id="T70s" transform="translate(1931.4,954.4) scale(1.07,1.0)" font-size="59" text-anchor="start" font-family='"Liberation Serif", "Times New Roman", serif' font-style="italic">m</text>
<polyline fill="none" stroke="#000" stroke-width="2" stroke-linejoin="round" points="1420.1,1399.3 1454.6,1394.5 1480.8,1377.6 1523.9,1355.8 1554.2,1350.7 1594.5,1336.6 1626.5,1325.0 1669.1,1301.4 1699.2,1276.6 1745.2,1225.4 1777.7,1176.4 1812.8,1101.9 1842.6,1072.0 1887.4,1022.8 1921.0,1004.0 1949.6,993.2"/>
<rect x="1416.1" y="1395.3" width="8" height="8" rx="2.2" fill="#000"/>
<line x1="1420.1" y1="1389.3" x2="1420.1" y2="1409.3" stroke="#000" stroke-width="3.8" />
<line x1="1408.1" y1="1399.3" x2="1432.1" y2="1399.3" stroke="#000" stroke-width="3.2" />
<rect x="1450.6" y="1390.5" width="8" height="8" rx="2.2" fill="#000"/>
<line x1="1446.6" y1="1394.5" x2="1462.6" y2="1394.5" stroke="#000" stroke-width="3.2" />
<rect x="1476.8" y="1373.6" width="8" height="8" rx="2.2" fill="#000"/>
<line x1="1480.8" y1="1366.6" x2="1480.8" y2="1388.6" stroke="#000" stroke-width="3.8" />
<line x1="1469.8" y1="1377.6" x2="1491.8" y2="1377.6" stroke="#000" stroke-width="3.2" />
<rect x="1519.9" y="1351.8" width="8" height="8" rx="2.2" fill="#000"/>
<line x1="1523.9" y1="1343.8" x2="1523.9" y2="1367.8" stroke="#000" stroke-width="3.8" />
<line x1="1511.9" y1="1355.8" x2="1535.9" y2="1355.8" stroke="#000" stroke-width="3.2" />
<rect x="1550.2" y="1346.7" width="8" height="8" rx="2.2" fill="#000"/>
<line x1="1554.2" y1="1339.7" x2="1554.2" y2="1361.7" stroke="#777" stroke-width="3.2" />
<line x1="1543.2" y1="1350.7" x2="1565.2" y2="1350.7" stroke="#000" stroke-width="3.2" />
<rect x="1590.5" y="1332.6" width="8" height="8" rx="2.2" fill="#000"/>
<line x1="1594.5" y1="1324.6" x2="1594.5" y2="1348.6" stroke="#777" stroke-width="3.2" />
<line x1="1582.5" y1="1336.6" x2="1606.5" y2="1336.6" stroke="#000" stroke-width="3.2" />
<rect x="1622.5" y="1321.0" width="8" height="8" rx="2.2" fill="#000"/>
<line x1="1617.5" y1="1325.0" x2="1635.5" y2="1325.0" stroke="#000" stroke-width="3.2" />
<rect x="1665.1" y="1297.4" width="8" height="8" rx="2.2" fill="#000"/>
<line x1="1659.1" y1="1301.4" x2="1679.1" y2="1301.4" stroke="#000" stroke-width="3.2" />
<rect x="1695.2" y="1272.6" width="8" height="8" rx="2.2" fill="#000"/>
<line x1="1699.2" y1="1264.6" x2="1699.2" y2="1288.6" stroke="#000" stroke-width="3.8" />
<line x1="1687.2" y1="1276.6" x2="1711.2" y2="1276.6" stroke="#000" stroke-width="3.2" />
<rect x="1741.2" y="1221.4" width="8" height="8" rx="2.2" fill="#000"/>
<line x1="1745.2" y1="1213.4" x2="1745.2" y2="1237.4" stroke="#000" stroke-width="3.8" />
<line x1="1732.2" y1="1225.4" x2="1758.2" y2="1225.4" stroke="#000" stroke-width="3.2" />
<rect x="1773.7" y="1172.4" width="8" height="8" rx="2.2" fill="#000"/>
<line x1="1777.7" y1="1164.4" x2="1777.7" y2="1188.4" stroke="#000" stroke-width="3.8" />
<line x1="1765.7" y1="1176.4" x2="1789.7" y2="1176.4" stroke="#000" stroke-width="3.2" />
<rect x="1808.8" y="1097.9" width="8" height="8" rx="2.2" fill="#000"/>
<line x1="1812.8" y1="1088.9" x2="1812.8" y2="1114.9" stroke="#000" stroke-width="3.8" />
<line x1="1799.8" y1="1101.9" x2="1825.8" y2="1101.9" stroke="#000" stroke-width="3.2" />
<rect x="1838.6" y="1068.0" width="8" height="8" rx="2.2" fill="#000"/>
<line x1="1842.6" y1="1061.0" x2="1842.6" y2="1083.0" stroke="#777" stroke-width="3.2" />
<line x1="1830.6" y1="1072.0" x2="1854.6" y2="1072.0" stroke="#000" stroke-width="3.2" />
<rect x="1883.4" y="1018.8" width="8" height="8" rx="2.2" fill="#000"/>
<line x1="1887.4" y1="1010.8" x2="1887.4" y2="1034.8" stroke="#777" stroke-width="3.2" />
<line x1="1875.4" y1="1022.8" x2="1899.4" y2="1022.8" stroke="#000" stroke-width="3.2" />
<rect x="1917.0" y="1000.0" width="8" height="8" rx="2.2" fill="#000"/>
<line x1="1909.0" y1="1004.0" x2="1933.0" y2="1004.0" stroke="#000" stroke-width="3.2" />
<rect x="1945.6" y="989.2" width="8" height="8" rx="2.2" fill="#000"/>
<line x1="1949.6" y1="981.2" x2="1949.6" y2="1005.2" stroke="#777" stroke-width="3.2" />
<line x1="1937.6" y1="993.2" x2="1961.6" y2="993.2" stroke="#000" stroke-width="3.2" />
</svg>
</body></html>
